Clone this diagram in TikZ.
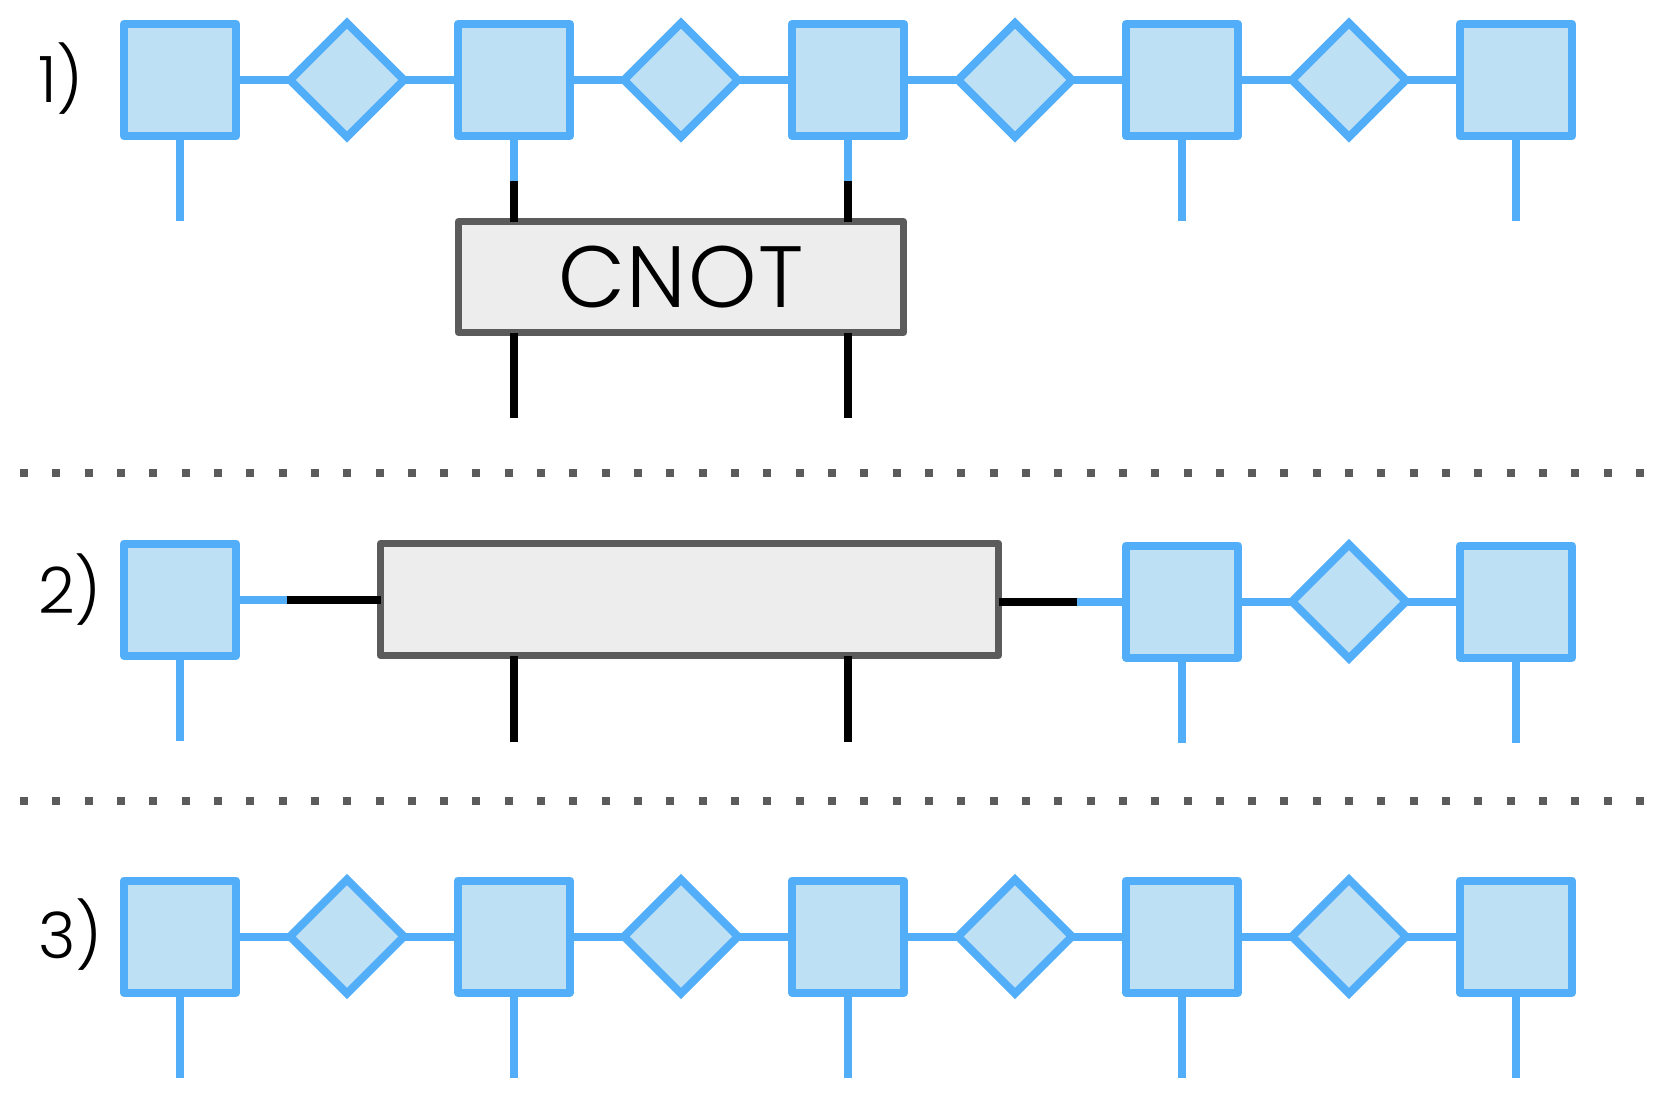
\documentclass[tikz,border=0pt]{standalone}
\usepackage{fontspec}
\setmainfont{Poppins Light}
\usetikzlibrary{shapes.geometric}
\definecolor{tblue}{HTML}{52AEF9}
\definecolor{tfill}{HTML}{BEE0F4}
\definecolor{gline}{HTML}{5B5B5B}
\definecolor{gfill}{HTML}{EDEDED}
\begin{document}
\begin{tikzpicture}[x=1pt,y=-1pt,
  sq/.style={draw=tblue, fill=tfill, line width=8pt, line join=round, minimum size=112pt, inner sep=0pt, outer sep=0pt},
  dia/.style={diamond, aspect=1, draw=tblue, fill=tfill, line width=8pt, minimum size=114pt, inner sep=0pt, outer sep=0pt},
  wire/.style={draw=tblue, line width=8pt},
  bwire/.style={draw=black, line width=8pt},
  gate/.style={draw=gline, fill=gfill, line width=7pt, line join=round, inner sep=0pt, outer sep=0pt},
  lbl/.style={font=\fontsize{64}{64}\selectfont, anchor=base west, inner sep=0pt},
  sep/.style={draw=gline, line width=8pt, dash pattern=on 8pt off 24.32pt},
]
\useasboundingbox (0,0) rectangle (1660,1112);

% labels
\node[lbl] (l1) at (38,102) {1)};
\node[lbl] (l2) at (38,613) {2)};
\node[lbl] (l3) at (38,958) {3)};

% separators
\draw[sep] (20,473) -- (1645,473);
\draw[sep] (20,801) -- (1645,801);

% row 1 and row 3 chains
\foreach \i/\x in {1/180,2/514,3/848,4/1182,5/1516} {
  \node[sq] (a\i) at (\x,80) {};
  \node[sq] (c\i) at (\x,936.5) {};
}
\foreach \i/\x in {1/347,2/681,3/1015,4/1349} {
  \node[dia] (ad\i) at (\x,80) {};
  \node[dia] (cd\i) at (\x,936.5) {};
}
\foreach \i/\j in {1/2,2/3,3/4,4/5} {
  \draw[wire] (a\i.east) -- (ad\i.west);
  \draw[wire] (ad\i.east) -- (a\j.west);
  \draw[wire] (c\i.east) -- (cd\i.west);
  \draw[wire] (cd\i.east) -- (c\j.west);
}
\foreach \i in {1,4,5} {
  \path (a\i.south) ++(0,85) coordinate (aleg\i);
  \draw[wire] (a\i.south) -- (aleg\i);
}
\foreach \i in {1,2,3,4,5} {
  \path (c\i.south) ++(0,85) coordinate (cleg\i);
  \draw[wire] (c\i.south) -- (cleg\i);
}

% CNOT gate
\node[gate, minimum width=445pt, minimum height=111pt, font=\fontsize{87}{87}\selectfont\addfontfeature{LetterSpace=2}] (cnot) at (681,277) {CNOT};
\coordinate (k2) at (514,181);
\coordinate (k3) at (848,181);
\draw[wire] (a2.south) -- (k2);
\draw[wire] (a3.south) -- (k3);
\draw[bwire] (k2) -- (cnot.north -| k2);
\draw[bwire] (k3) -- (cnot.north -| k3);
\coordinate (q2) at (514,418);
\coordinate (q3) at (848,418);
\draw[bwire] (cnot.south -| q2) -- (q2);
\draw[bwire] (cnot.south -| q3) -- (q3);

% row 2
\node[sq] (b1) at (180,599.5) {};
\node[gate, minimum width=618pt, minimum height=112pt] (g) at (689.5,599.5) {};
\node[sq] (b4) at (1182,601.5) {};
\node[dia] (bd4) at (1349,601.5) {};
\node[sq] (b5) at (1516,601.5) {};
\coordinate (bl) at (287,599.5);
\coordinate (br) at (1077,601.5);
\draw[wire] (b1.east) -- (bl);
\draw[bwire] (bl) -- (g.west);
\draw[bwire] (g.east |- br) -- (br);
\draw[wire] (br) -- (b4.west);
\draw[wire] (b4.east) -- (bd4.west);
\draw[wire] (bd4.east) -- (b5.west);
\foreach \i in {1,4,5} {
  \path (b\i.south) ++(0,85) coordinate (bleg\i);
  \draw[wire] (b\i.south) -- (bleg\i);
}
\coordinate (p2) at (514,742);
\coordinate (p3) at (848,742);
\draw[bwire] (g.south -| p2) -- (p2);
\draw[bwire] (g.south -| p3) -- (p3);
\end{tikzpicture}
\end{document}
